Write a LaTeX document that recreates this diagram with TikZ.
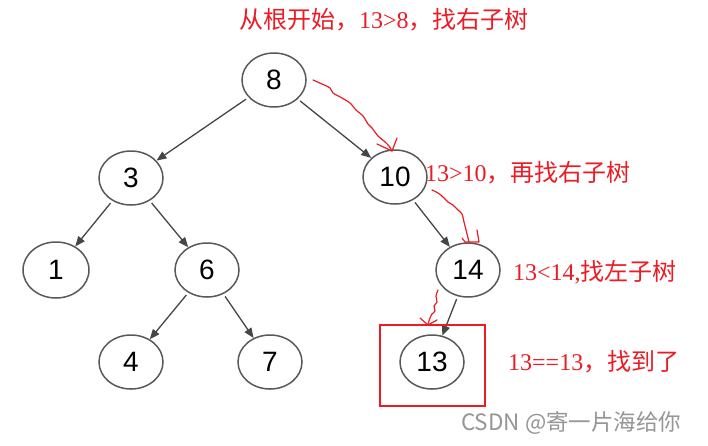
\documentclass[tikz,border=0pt]{standalone}
\usepackage{fontspec}
\setmainfont{Liberation Serif}
\newfontfamily\cjk{Noto Sans CJK SC}
\newfontfamily\numfont{Liberation Sans}
\usetikzlibrary{shapes.geometric,arrows.meta}
\definecolor{ink}{RGB}{70,70,70}
\definecolor{mark}{RGB}{236,28,36}
\definecolor{wm}{RGB}{150,150,150}
\begin{document}
\begin{tikzpicture}[x=1pt,y=-1pt,
  tnode/.style={ellipse, draw=ink!90, line width=1.5pt, minimum width=64pt, minimum height=54pt,
    inner sep=0pt, font=\numfont\fontsize{28}{28}\selectfont, text=black},
  arr/.style={draw=ink, line width=1.3pt, -{Triangle[length=10pt,width=8pt]}, shorten <=3pt, shorten >=0pt},
  note/.style={anchor=west, inner sep=0pt, text=mark, font=\fontsize{24}{24}\selectfont},
  hand/.style={draw=mark, line width=1.2pt, line cap=round, line join=round},
  box/.style={draw=mark, line width=2.6pt}]
\path[use as bounding box, fill=white] (0,0) rectangle (708,445);
% tree nodes
\node[tnode] (n8)  at (274,80)  {8};
\node[tnode] (n3)  at (131,178) {3};
\node[tnode] (n10) at (395,177) {10};
\node[tnode, minimum width=66pt, minimum height=56pt] (n1) at (56,270) {1};
\node[tnode] (n6)  at (207,270) {6};
\node[tnode] (n14) at (468,270) {14};
\node[tnode] (n4)  at (131,362) {4};
\node[tnode] (n7)  at (270,362) {7};
\node[tnode] (n13) at (432,362) {13};
% tree edges
\draw[arr] (n8) -- (n3);
\draw[arr] (n8) -- (n10);
\draw[arr] (n3) -- (n1);
\draw[arr] (n3) -- (n6);
\draw[arr] (n6) -- (n4);
\draw[arr] (n6) -- (n7);
\draw[arr] (n10) -- (n14);
\draw[arr] (n14) -- (n13);
% red box
\node[box, minimum width=105pt, minimum height=81pt, inner sep=0pt] (found) at (432.5,365.5) {};
% notes
\node[note] (t1) at (239,20) {\cjk 从根开始，\rmfamily 13>8\cjk ，找右子树};
\node[note] (t2) at (425,173) {13>10\cjk ，再找右子树};
\node[note] (t3) at (513,272) {13<14,\cjk 找左子树};
\node[note] (t4) at (508,362) {13==13\cjk ，找到了};
\node[anchor=west, inner sep=0pt, text=wm, font=\cjk\fontsize{22.5}{22.5}\selectfont] (wmk) at (461,423) {CSDN @寄一片海给你};
% hand drawn red arrows
\draw[hand] plot[smooth, tension=0.5] coordinates {(313,80) (322,84) (330,88) (333,93) (342,98) (350,103) (356,110) (363,116) (368,124) (372,128) (378,136) (384,141) (389,146) (392,151)};
\draw[hand] (377,144) -- (392,151) -- (397,138);
\draw[hand] plot[smooth, tension=0.5] coordinates {(432,190) (438,193) (443,197) (448,202) (453,205) (458,210) (462,214) (464,222) (466,230) (468,238) (469,242)};
\draw[hand] (462,238) -- (465,242) -- (479,242) -- (477,230);
\draw[hand] plot[smooth, tension=0.5] coordinates {(438,290) (436,296) (437,302) (434,306) (435,311) (432,314) (430,318) (428,324)};
\draw[hand] (420,318) -- (428,325) -- (437,320);
\end{tikzpicture}
\end{document}
